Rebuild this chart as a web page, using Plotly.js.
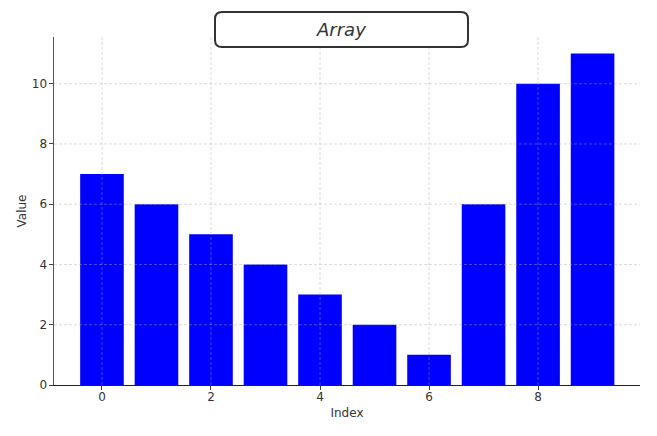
<!DOCTYPE html>
<html><head><meta charset="utf-8">
<script src="https://cdn.plot.ly/plotly-3.0.1.min.js"></script>
<style>body{margin:0;padding:0;background:#fff}#c{width:657px;height:436px}</style>
</head><body><div id="c"></div>
<script>
const indices = [0,1,2,3,4,5,6,7,8,9];
const values = [7,6,5,4,3,2,1,6,10,11];
const xTicks = [0,2,4,6,8];
const yTicks = [0,2,4,6,8,10];

const W=657,H=436,L=54,R=17,T=37,B=51;
const pw=W-L-R, ph=H-T-B;
function px(x){return (x-L)/pw;}
function py(y){return (H-B-y)/ph;}
const bx0=215,bx1=468,by0=12,by1=47,rad=7;
const rx=rad/pw, ry=rad/ph;
const X0=px(bx0),X1=px(bx1),Y0=py(by0),Y1=py(by1);
const path=`M ${X0+rx},${Y0} L ${X1-rx},${Y0} Q ${X1},${Y0} ${X1},${Y0-ry} L ${X1},${Y1+ry} Q ${X1},${Y1} ${X1-rx},${Y1} L ${X0+rx},${Y1} Q ${X0},${Y1} ${X0},${Y1+ry} L ${X0},${Y0-ry} Q ${X0},${Y0} ${X0+rx},${Y0} Z`;

const gridLine={color:'rgba(170,170,170,0.55)',width:0.8,dash:'3px,2px'};
const gridShapes=[];
xTicks.forEach(v=>gridShapes.push({type:'line',xref:'x',yref:'paper',x0:v,x1:v,y0:0,y1:1,line:gridLine,layer:'above'}));
yTicks.filter(v=>v>0).forEach(v=>gridShapes.push({type:'line',xref:'paper',yref:'y',x0:0,x1:1,y0:v,y1:v,line:gridLine,layer:'above'}));

const data=[{type:'bar',x:indices,y:values,width:0.8,marker:{color:'#0000ff',line:{width:0}},hoverinfo:'skip'}];
const layout={
  width:W,height:H,margin:{l:L,r:R,t:T,b:B},
  paper_bgcolor:'#fff',plot_bgcolor:'#fff',showlegend:false,
  font:{family:'DejaVu Sans, sans-serif',size:12,color:'#333'},
  xaxis:{range:[-0.88,9.87],tickvals:xTicks,ticktext:xTicks.map(String),showgrid:false,
    showline:true,linecolor:'#222',linewidth:1.2,ticks:'outside',ticklen:4,tickcolor:'#444',zeroline:false,layer:'above traces',ticklabelstandoff:-4,
    title:{text:'Index',font:{size:12,color:'#333'},standoff:6}},
  yaxis:{range:[0,11.55],tickvals:yTicks,ticktext:yTicks.map(String),showgrid:false,
    showline:true,linecolor:'#555',linewidth:1.5,ticks:'outside',ticklen:4,tickcolor:'#444',zeroline:false,layer:'above traces',ticklabelstandoff:-1,
    title:{text:'Value',font:{size:12,color:'#333'},standoff:2}},
  shapes:gridShapes.concat([{type:'path',xref:'paper',yref:'paper',path:path,line:{color:'#333',width:2},fillcolor:'rgba(255,255,255,1)',layer:'above'}]),
  annotations:[{xref:'paper',yref:'paper',x:px(341),y:py(30),text:'<i>Array</i>',showarrow:false,font:{family:'DejaVu Sans, sans-serif',size:18,color:'#333'},xanchor:'center',yanchor:'middle'}],
  bargap:0.2
};
Plotly.newPlot('c',data,layout,{displayModeBar:false,staticPlot:true});
</script></body></html>
